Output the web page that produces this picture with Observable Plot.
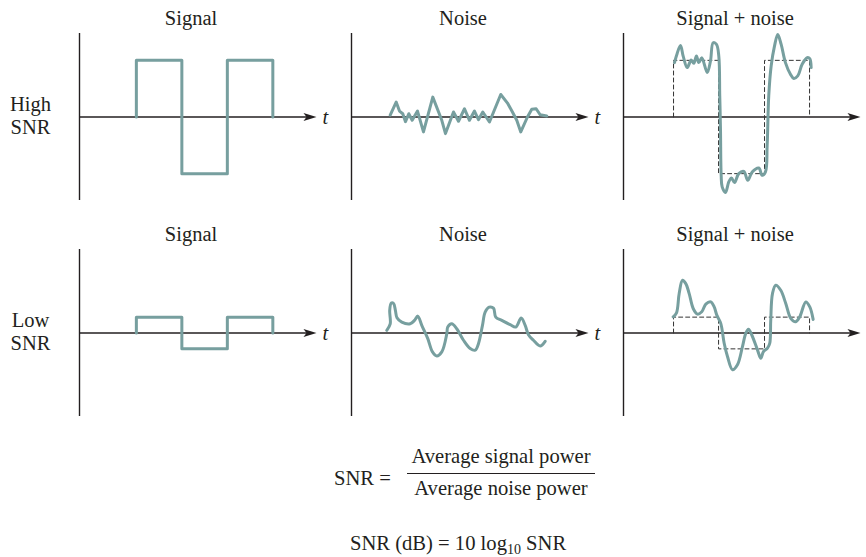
<!DOCTYPE html>
<html>
<head>
<meta charset="utf-8">
<script src="https://cdn.jsdelivr.net/npm/d3@7"></script>
<script src="https://cdn.jsdelivr.net/npm/@observablehq/plot@0.6"></script>
<style>
  html, body { margin: 0; padding: 0; background: #fff; }
  #wrap { width: 866px; }
  #cap { position: relative; width: 866px; height: 127px; font-family: "Liberation Serif", "DejaVu Serif", serif; font-size: 20.6px; color: #231f20; line-height: 20px; }
  #cap div { position: absolute; white-space: nowrap; }
  sub { font-size: 14px; line-height: 0; vertical-align: -4px; }
</style>
</head>
<body>
<div id="wrap">
  <div id="chart"></div>
  <div id="cap">
    <div style="left:334px; top:38px;">SNR =</div>
    <div style="left:405px; top:16px; width:192px; text-align:center;">Average signal power</div>
    <div style="left:407px; top:43px; width:188px; height:0; border-top:1.2px solid #231f20;"></div>
    <div style="left:405px; top:48px; width:192px; text-align:center;">Average noise power</div>
    <div style="left:350px; top:103px;">SNR (dB) = 10 log<sub>10</sub> SNR</div>
  </div>
</div>
<script>
// ---- categories ----
const cols = ["Signal", "Noise", "Signal + noise"];
const rows = ["High SNR", "Low SNR"];
const rowLabels = ["High\nSNR", "Low\nSNR"];

// ---- clean signal (bit edges in t units, levels) ----
const signalEdges = [1.25, 2.25, 3.25, 4.25];
const signalEdgesSN = [1.1, 2.09, 3.1, 4.09];
const signalLevelsHigh = [1, -1, 1];
const signalLevelsLow = [0.28, -0.28, 0.28];

// ---- axis extents ----
const tMax = 5.21;
const yExtent = 1.474;

// ---- noise, high SNR (jagged) ----
const noiseHighT = [0.851,0.982,1.055,1.127,1.187,1.259,1.334,1.451,1.582,1.787,1.985,2.066,2.242,2.352,2.484,2.593,2.703,2.791,2.886,3.033,3.281,3.429,3.538,3.633,3.721,3.868,3.963,4.059,4.147,4.292];
const noiseHighY = [0.035,0.263,0.105,0.058,-0.082,0.058,-0.058,0.105,-0.263,0.351,-0.058,-0.293,0.088,-0.075,0.146,-0.058,0.105,-0.047,0.088,-0.088,0.398,0.246,0.088,-0.058,-0.263,0,0.135,0.146,0.04,0.018];

// ---- signal + noise, high SNR ----
const snHighT = [1.121,1.180,1.253,1.312,1.400,1.488,1.545,1.604,1.655,1.721,1.840,1.912,1.971,2.044,2.095,2.116,2.132,2.147,2.169,2.242,2.314,2.374,2.440,2.534,2.644,2.732,2.829,2.974,3.048,3.121,3.158,3.193,3.246,3.319,3.391,3.466,3.560,3.670,3.743,3.831,3.927,4.037,4.095,4.125];
const snHighY = [0.96,1.123,1.263,1.075,0.872,1.005,0.947,1.075,0.96,1.047,0.784,0.988,1.311,1.281,1.075,0.374,-0.211,-1.03,-1.233,-1.333,-1.146,-1.075,-1.158,-1.0,-0.96,-1.118,-0.97,-0.9,-1.03,-0.97,-0.504,0.374,0.9,1.251,1.456,1.281,0.96,0.754,0.679,0.725,0.93,1.047,1.03,0.872];

// ---- noise, low SNR (smooth) ----
const noiseLowT = [0.776,0.851,0.840,0.875,0.925,0.965,1.0,1.105,1.290,1.385,1.457,1.545,1.677,1.780,1.875,1.985,2.095,2.116,2.204,2.314,2.462,2.609,2.719,2.791,2.879,2.938,3.026,3.121,3.171,3.303,3.488,3.611,3.730,3.818,3.890,4.0,4.147,4.257];
const noiseLowY = [0.047,0.16,0.40,0.53,0.52,0.40,0.27,0.193,0.163,0.223,0.298,0.135,-0.1,-0.333,-0.404,-0.333,-0.012,0.105,0.163,0.075,-0.128,-0.275,-0.304,-0.188,0.135,0.368,0.456,0.439,0.281,0.223,0.146,0.105,0.263,0.135,-0.03,-0.128,-0.228,-0.146];

// ---- signal + noise, low SNR ----
const snLowT = [1.092,1.165,1.224,1.297,1.369,1.444,1.532,1.626,1.721,1.809,1.919,1.993,2.051,2.138,2.213,2.286,2.396,2.505,2.615,2.688,2.747,2.820,2.945,3.018,3.077,3.165,3.215,3.237,3.275,3.347,3.457,3.567,3.677,3.787,3.875,4.007,4.095,4.169];
const snLowY = [0.286,0.356,0.696,0.93,0.872,0.696,0.433,0.333,0.374,0.509,0.549,0.461,0.316,0.17,-0.181,-0.416,-0.649,-0.561,-0.24,-0.005,0.065,-0.035,-0.298,-0.444,-0.328,-0.268,-0.181,0.228,0.696,0.842,0.754,0.521,0.258,0.198,0.286,0.549,0.461,0.24];

// ---- build tables ----
function stepPoints(edges, levels, col, row) {
  const pts = [{t: edges[0], y: 0, col, row}];
  levels.forEach((v, i) => {
    pts.push({t: edges[i], y: v, col, row});
    pts.push({t: edges[i + 1], y: v, col, row});
  });
  pts.push({t: edges[edges.length - 1], y: 0, col, row});
  return pts;
}
function series(T, Y, col, row) {
  return T.map((t, i) => ({t, y: Y[i], col, row, id: col + row}));
}

const cleanSignals = [
  ...stepPoints(signalEdges, signalLevelsHigh, cols[0], rows[0]),
  ...stepPoints(signalEdges, signalLevelsLow, cols[0], rows[1])
];
const dashedSignals = [
  ...stepPoints(signalEdgesSN, signalLevelsHigh, cols[2], rows[0]),
  ...stepPoints(signalEdgesSN, signalLevelsLow, cols[2], rows[1])
];
const jagged = series(noiseHighT, noiseHighY, cols[1], rows[0]);
const smooth = [
  ...series(snHighT, snHighY, cols[2], rows[0]),
  ...series(noiseLowT, noiseLowY, cols[1], rows[1]),
  ...series(snLowT, snLowY, cols[2], rows[1])
];
const titles = rows.flatMap(row => cols.map(col => ({col, row})));
const rowLabelData = rows.map((row, i) => ({col: cols[0], row, label: rowLabels[i]}));

const ink = "#231f20";
const teal = "#779f9f";
const serif = "Liberation Serif";

const arrowHead = {
  draw(context) {
    context.moveTo(0, 0);
    context.lineTo(-13, -4);
    context.lineTo(-10, 0);
    context.lineTo(-13, 4);
    context.closePath();
  }
};

const chart = Plot.plot({
  width: 866,
  height: 430,
  marginLeft: 78,
  marginRight: 6,
  marginTop: 32,
  marginBottom: 13,
  fx: {domain: cols, axis: null, paddingInner: 0.1303, paddingOuter: 0},
  fy: {domain: rows, axis: null, paddingInner: 0.2258, paddingOuter: 0},
  x: {domain: [0, tMax], axis: null},
  y: {domain: [-yExtent, yExtent], axis: null},
  style: {fontFamily: serif, fontSize: "20px", color: ink, background: "#fff", overflow: "visible"},
  marks: [
    Plot.ruleX([0], {stroke: ink, strokeWidth: 1.4}),
    Plot.ruleY([0], {x1: 0, x2: tMax - 0.1, stroke: ink, strokeWidth: 1.4}),
    Plot.dot([tMax], {x: d => d, y: 0, symbol: arrowHead, fill: ink, stroke: "none"}),
    Plot.text([tMax], {x: d => d, y: 0, text: () => "t", dx: 6, textAnchor: "start", fontStyle: "italic", fontFamily: serif, fontSize: 20.5, fill: ink}),
    Plot.line(dashedSignals, {x: "t", y: "y", fx: "col", fy: "row", stroke: "#333", strokeWidth: 1, strokeDasharray: "4,3"}),
    Plot.line(cleanSignals, {x: "t", y: "y", fx: "col", fy: "row", stroke: teal, strokeWidth: 3}),
    Plot.line(jagged, {x: "t", y: "y", fx: "col", fy: "row", stroke: teal, strokeWidth: 3, strokeLinejoin: "round"}),
    Plot.line(smooth, {x: "t", y: "y", z: "id", fx: "col", fy: "row", stroke: teal, strokeWidth: 3, curve: "catmull-rom"}),
    Plot.text(titles, {fx: "col", fy: "row", text: "col", frameAnchor: "top", dx: -7, dy: -9, lineAnchor: "bottom", fontFamily: serif, fontSize: 20.5, fill: ink}),
    Plot.text(rowLabelData, {fx: "col", fy: "row", text: "label", frameAnchor: "left", dx: -49, dy: -2, textAnchor: "middle", lineAnchor: "middle", lineHeight: 1.15, fontFamily: serif, fontSize: 20.5, fill: ink})
  ]
});
document.getElementById("chart").appendChild(chart);
</script>
</body>
</html>
